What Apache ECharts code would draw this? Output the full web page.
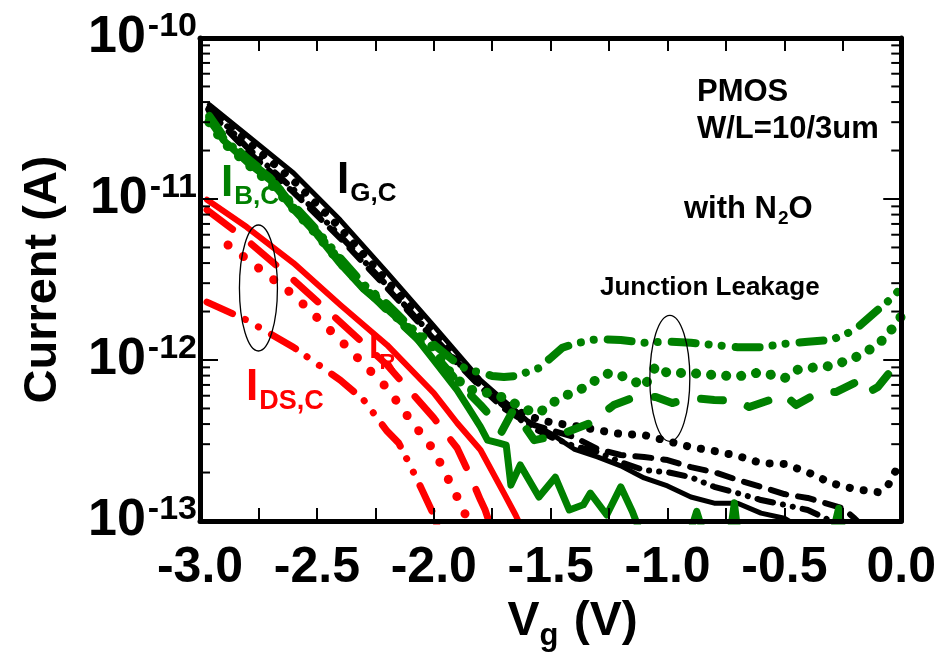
<!DOCTYPE html>
<html>
<head>
<meta charset="utf-8">
<script src="https://cdn.jsdelivr.net/npm/echarts@6/dist/echarts.min.js"></script>
<style>
  html, body { margin: 0; padding: 0; background: #fff; }
  #chart { width: 939px; height: 664px; }
</style>
</head>
<body>
<div id="chart"></div>
<script>
// Gate-voltage sweep, PMOS W/L = 10/3 um with N2O: currents in A versus Vg in V.
const xTicks = [-3.0, -2.5, -2.0, -1.5, -1.0, -0.5, 0.0];
const yDecades = [1e-13, 1e-12, 1e-11, 1e-10];

// Gate current I_G,C (black)
const igSolid = [[-2.96, 3.85e-11], [-2.8, 2.5e-11], [-2.6, 1.45e-11], [-2.4, 7.4e-12], [-2.2, 3.5e-12],
  [-2.0, 1.63e-12], [-1.8, 7.5e-13], [-1.7, 5.6e-13], [-1.6, 4.2e-13], [-1.5, 3.5e-13], [-1.4, 2.8e-13],
  [-1.3, 2.5e-13], [-1.2, 2.2e-13], [-1.1, 1.85e-13], [-1.0, 1.65e-13], [-0.9, 1.41e-13], [-0.8, 1.29e-13],
  [-0.7, 1.29e-13], [-0.6, 1.12e-13], [-0.5, 1.04e-13], [-0.4, 8.5e-14]];
const igDashed = [[-2.96, 3.5e-11], [-2.8, 2.0e-11], [-2.6, 1.1e-11], [-2.4, 5.7e-12], [-2.2, 2.8e-12],
  [-2.0, 1.35e-12], [-1.8, 6.8e-13], [-1.7, 5.0e-13], [-1.6, 4.06e-13], [-1.5, 3.67e-13], [-1.4, 3.33e-13],
  [-1.3, 2.8e-13], [-1.2, 2.57e-13], [-1.1, 2.5e-13], [-1.0, 2.39e-13], [-0.9, 2.16e-13], [-0.8, 2.01e-13],
  [-0.7, 1.8e-13], [-0.6, 1.63e-13], [-0.5, 1.47e-13], [-0.4, 1.39e-13], [-0.3, 1.26e-13], [-0.25, 1.2e-13],
  [-0.2, 1.04e-13], [-0.15, 8.8e-14]];
const igDotted = [[-2.96, 3.6e-11], [-2.8, 2.3e-11], [-2.6, 1.3e-11], [-2.4, 6.6e-12], [-2.2, 3.1e-12],
  [-2.0, 1.5e-12], [-1.8, 7.2e-13], [-1.7, 5.4e-13], [-1.6, 4.5e-13], [-1.5, 4.1e-13], [-1.4, 3.9e-13],
  [-1.3, 3.67e-13], [-1.2, 3.47e-13], [-1.1, 3.42e-13], [-1.0, 3.14e-13], [-0.9, 2.88e-13], [-0.8, 2.72e-13],
  [-0.7, 2.54e-13], [-0.6, 2.29e-13], [-0.5, 2.26e-13], [-0.4, 2.01e-13], [-0.3, 1.72e-13], [-0.2, 1.58e-13],
  [-0.1, 1.51e-13], [-0.06, 1.63e-13], [-0.02, 2.1e-13]];
const igDashDot = [[-2.96, 3.7e-11], [-2.8, 2.1e-11], [-2.6, 1.15e-11], [-2.4, 5.9e-12], [-2.2, 2.9e-12],
  [-2.0, 1.38e-12], [-1.8, 6.9e-13], [-1.7, 5.18e-13], [-1.6, 3.94e-13], [-1.5, 3.33e-13], [-1.4, 2.92e-13],
  [-1.3, 2.69e-13], [-1.2, 2.32e-13], [-1.1, 2.07e-13], [-1.0, 2.01e-13], [-0.9, 1.87e-13], [-0.8, 1.63e-13],
  [-0.7, 1.49e-13], [-0.6, 1.35e-13], [-0.5, 1.26e-13], [-0.4, 1.17e-13], [-0.3, 1.0e-13], [-0.25, 8.8e-14]];

// Bulk current I_B,C (green)
const ibSolid = [[-2.96, 3.1e-11], [-2.9, 2.32e-11], [-2.8, 1.7e-11], [-2.7, 1.31e-11], [-2.6, 8.6e-12],
  [-2.5, 6.0e-12], [-2.4, 3.95e-12], [-2.3, 2.75e-12], [-2.2, 2.07e-12], [-2.1, 1.53e-12], [-2.0, 1.0e-12],
  [-1.9, 6.5e-13], [-1.85, 5.0e-13], [-1.8, 3.84e-13], [-1.77, 3.18e-13], [-1.72, 3.05e-13], [-1.69, 2.96e-13],
  [-1.67, 1.67e-13], [-1.63, 2.23e-13], [-1.55, 1.41e-13], [-1.48, 1.87e-13], [-1.42, 1.17e-13], [-1.36, 1.26e-13],
  [-1.33, 1.49e-13], [-1.26, 1.09e-13], [-1.2, 1.63e-13], [-1.15, 1.14e-13], [-1.12, 8.8e-14], [-0.9, 8.8e-14],
  [-0.875, 1.15e-13], [-0.85, 8.8e-14], [-0.73, 8.8e-14], [-0.714, 1.3e-13], [-0.7, 8.8e-14], [-0.29, 8.8e-14],
  [-0.268, 1.2e-13], [-0.25, 8.8e-14]];
const ibDashed = [[-2.96, 3.28e-11], [-2.9, 2.46e-11], [-2.8, 1.8e-11], [-2.7, 1.37e-11], [-2.6, 8.9e-12],
  [-2.5, 6.2e-12], [-2.4, 4.15e-12], [-2.3, 2.85e-12], [-2.2, 2.04e-12], [-2.1, 1.49e-12], [-2.0, 1.09e-12],
  [-1.9, 7.4e-13], [-1.8, 5.25e-13], [-1.75, 4.37e-13], [-1.71, 3.57e-13], [-1.66, 4.89e-13], [-1.57, 3.18e-13],
  [-1.5, 3.33e-13], [-1.43, 3.57e-13], [-1.33, 4.06e-13], [-1.23, 5.25e-13], [-1.15, 5.81e-13], [-1.05, 5.89e-13],
  [-0.98, 5.4e-13], [-0.9, 5.81e-13], [-0.8, 5.65e-13], [-0.7, 5.56e-13], [-0.65, 5.1e-13], [-0.6, 5.4e-13],
  [-0.5, 6.07e-13], [-0.45, 5.25e-13], [-0.35, 6.32e-13], [-0.28, 6.32e-13], [-0.2, 7.2e-13], [-0.16, 6.07e-13],
  [-0.1, 6.79e-13], [0.0, 1.03e-12]];
const ibDotted = [[-2.96, 3.0e-11], [-2.9, 2.26e-11], [-2.8, 1.67e-11], [-2.7, 1.26e-11], [-2.6, 8.7e-12],
  [-2.5, 6.05e-12], [-2.4, 4.05e-12], [-2.3, 2.85e-12], [-2.2, 2.13e-12], [-2.1, 1.53e-12], [-2.0, 1.2e-12],
  [-1.95, 9.0e-13], [-1.9, 7.6e-13], [-1.85, 6.6e-13], [-1.8, 6.32e-13], [-1.75, 6.2e-13], [-1.7, 5.81e-13],
  [-1.65, 5.33e-13], [-1.6, 4.89e-13], [-1.55, 4.69e-13], [-1.5, 5.33e-13], [-1.45, 5.89e-13], [-1.4, 6.32e-13],
  [-1.35, 6.79e-13], [-1.3, 7.62e-13], [-1.25, 8.3e-13], [-1.2, 8.0e-13], [-1.15, 7.5e-13], [-1.1, 6.8e-13],
  [-1.05, 9.18e-13], [-1.0, 8.3e-13], [-0.9, 8.3e-13], [-0.8, 8.07e-13], [-0.7, 7.9e-13], [-0.6, 8.41e-13],
  [-0.5, 7.7e-13], [-0.45, 8.67e-13], [-0.4, 8.91e-13], [-0.3, 9.18e-13], [-0.2, 1.03e-12], [-0.1, 1.24e-12],
  [-0.05, 1.49e-12], [0.0, 1.87e-12]];
const ibDashDot = [[-2.96, 3.18e-11], [-2.9, 2.39e-11], [-2.8, 1.75e-11], [-2.7, 1.35e-11], [-2.6, 9.2e-12],
  [-2.5, 6.4e-12], [-2.4, 4.3e-12], [-2.3, 2.95e-12], [-2.2, 2.23e-12], [-2.1, 1.6e-12], [-2.0, 1.25e-12],
  [-1.9, 9.5e-13], [-1.85, 8.6e-13], [-1.8, 8.41e-13], [-1.75, 7.96e-13], [-1.7, 7.83e-13], [-1.65, 7.96e-13],
  [-1.6, 8.41e-13], [-1.55, 8.91e-13], [-1.5, 1.03e-12], [-1.45, 1.19e-12], [-1.4, 1.26e-12], [-1.3, 1.35e-12],
  [-1.2, 1.33e-12], [-1.1, 1.28e-12], [-1.0, 1.3e-12], [-0.9, 1.28e-12], [-0.8, 1.24e-12], [-0.7, 1.2e-12],
  [-0.6, 1.2e-12], [-0.5, 1.26e-12], [-0.4, 1.3e-12], [-0.3, 1.33e-12], [-0.2, 1.53e-12], [-0.1, 2.05e-12],
  [-0.05, 2.36e-12], [0.0, 2.8e-12]];

// Drain-source current I_DS,C (red)
const idsSolid = [[-2.97, 9.9e-12], [-2.8, 6.7e-12], [-2.6, 4.0e-12], [-2.4, 2.2e-12], [-2.2, 1.24e-12],
  [-2.0, 6.24e-13], [-1.9, 4.06e-13], [-1.8, 2.76e-13], [-1.7, 1.49e-13], [-1.65, 1.09e-13], [-1.62, 8.8e-14]];
const idsDashed = [[-2.97, 8.55e-12], [-2.8, 5.56e-12], [-2.6, 3.14e-12], [-2.4, 1.72e-12], [-2.2, 9.31e-13],
  [-2.0, 4.37e-13], [-1.9, 2.84e-13], [-1.85, 1.99e-13], [-1.8, 1.35e-13], [-1.78, 1.17e-13], [-1.75, 8.7e-14]];
const idsDotted = [[-2.88, 5.18e-12], [-2.8, 4.24e-12], [-2.6, 2.54e-12], [-2.4, 1.33e-12], [-2.2, 6.7e-13],
  [-2.1, 4.24e-13], [-2.0, 2.76e-13], [-1.9, 1.41e-13], [-1.86, 1.06e-13], [-1.84, 8.8e-14]];
const idsDashDot = [[-2.97, 2.29e-12], [-2.8, 1.77e-12], [-2.6, 1.2e-12], [-2.4, 7.5e-13], [-2.3, 5.65e-13],
  [-2.2, 3.62e-13], [-2.15, 3.05e-13], [-2.1, 2.2e-13], [-2.05, 1.56e-13], [-2.0, 1.09e-13], [-1.98, 8.8e-14]];

const BLACK = '#000000', GREEN = '#008000', RED = '#ff0000';
const FONT = 'Liberation Sans, Arial, sans-serif';

// line styles: solid, long dash, round dots, dash-dot-dot
const curves = [
  { data: igSolid,   color: BLACK, width: 5, type: 'solid' },
  { data: igDashed,  color: BLACK, width: 6, type: [16, 12] },
  { data: igDashDot, color: BLACK, width: 6, type: [16, 10, 0.1, 10, 0.1, 10] },
  { data: igDotted,  color: BLACK, width: 8, type: [0.1, 14] },
  { data: ibSolid,   color: GREEN, width: 7, type: 'solid' },
  { data: ibDashed,  color: GREEN, width: 8, type: [22, 26] },
  { data: ibDotted,  color: GREEN, width: 10, type: [0.1, 15] },
  { data: ibDashDot, color: GREEN, width: 8, type: [24, 13, 0.1, 13, 0.1, 14] },
  { data: idsSolid,  color: RED, width: 6, type: 'solid' },
  { data: idsDashed, color: RED, width: 7, type: [32, 24] },
  { data: idsDotted, color: RED, width: 9, type: [0.1, 19] },
  { data: idsDashDot,color: RED, width: 7, type: [28, 14, 0.1, 15, 0.1, 15] }
];

// log-axis minor ticks (2..9 within each decade)
const minorTickValues = [];
for (let d = 0; d < yDecades.length - 1; d++) {
  for (let m = 2; m <= 9; m++) minorTickValues.push(m * yDecades[d]);
}

const chart = echarts.init(document.getElementById('chart'), null, { renderer: 'canvas' });

const frameLine = { show: true, onZero: false, lineStyle: { color: BLACK, width: 5 } };
const xCommon = {
  type: 'value', min: xTicks[0], max: xTicks[xTicks.length - 1], interval: 0.5,
  axisLine: frameLine,
  axisTick: { show: true, inside: true, length: 13, lineStyle: { color: BLACK, width: 2 } },
  minorTick: { show: true, splitNumber: 2, length: 13, lineStyle: { color: BLACK, width: 2 } },
  splitLine: { show: false }, z: 5
};
const yCommon = {
  type: 'log', logBase: 10, min: yDecades[0], max: yDecades[yDecades.length - 1],
  axisLine: frameLine,
  axisTick: { show: true, inside: true, length: 18, lineStyle: { color: BLACK, width: 2 } },
  splitLine: { show: false }, z: 5
};

const series = curves.map((c, i) => ({
  type: 'line', name: 'c' + i, data: c.data, showSymbol: false, symbol: 'none',
  clip: true, z: 2 + (i >= 8 ? 1 : 0),
  lineStyle: { color: c.color, width: c.width, type: c.type, cap: 'round', join: 'round' }
}));

series.push({
  type: 'custom', name: 'minorTicks', silent: true, clip: false, z: 6,
  data: minorTickValues.map(v => [xTicks[0], v]),
  renderItem: (params, api) => {
    const v = api.value(1);
    const l = api.coord([xTicks[0], v]);
    const r = api.coord([xTicks[xTicks.length - 1], v]);
    return {
      type: 'group', children: [
        { type: 'line', shape: { x1: l[0], y1: l[1], x2: l[0] + 10, y2: l[1] }, style: { stroke: BLACK, lineWidth: 2 } },
        { type: 'line', shape: { x1: r[0], y1: r[1], x2: r[0] - 10, y2: r[1] }, style: { stroke: BLACK, lineWidth: 2 } }
      ]
    };
  }
});

chart.setOption({
  animation: false,
  backgroundColor: '#ffffff',
  grid: { left: 200, right: 33, top: 38, bottom: 143, containLabel: false },
  xAxis: [
    Object.assign({}, xCommon, {
      position: 'bottom',
      axisLabel: {
        show: true, margin: 22, color: BLACK, fontFamily: FONT, fontWeight: 'bold', fontSize: 50,
        formatter: v => v.toFixed(1)
      },
      name: '{a|V}{s|g}{a| (V)}', nameLocation: 'middle', nameGap: 76,
      nameTextStyle: {
        padding: [0, 0, 0, 44],
        rich: {
          a: { fontFamily: FONT, fontWeight: 'bold', fontSize: 48, color: BLACK, lineHeight: 48, verticalAlign: 'top' },
          s: { fontFamily: FONT, fontWeight: 'bold', fontSize: 31, color: BLACK, lineHeight: 31, verticalAlign: 'top', padding: [23, 2, 0, 0] }
        }
      }
    }),
    Object.assign({}, xCommon, { position: 'top', axisLabel: { show: false } })
  ],
  yAxis: [
    Object.assign({}, yCommon, {
      position: 'left',
      axisLabel: {
        show: true, margin: 3, color: BLACK,
        formatter: v => '{b|10}{s|' + Math.round(Math.log10(v)) + '}',
        rich: {
          b: { fontFamily: FONT, fontWeight: 'bold', fontSize: 52, color: BLACK, lineHeight: 52, verticalAlign: 'top' },
          s: { fontFamily: FONT, fontWeight: 'bold', fontSize: 34, color: BLACK, lineHeight: 34, verticalAlign: 'top', padding: [-2, 0, 0, 2] }
        }
      },
      name: 'Current (A)', nameLocation: 'middle', nameGap: 133, nameRotate: 90,
      nameTextStyle: { fontFamily: FONT, fontWeight: 'bold', fontSize: 47, color: BLACK }
    }),
    Object.assign({}, yCommon, { position: 'right', axisLabel: { show: false } })
  ],
  series: series
});

// annotation texts and ellipses
const labelRich = (color, big, small, pad) => ({
  a: { fontFamily: FONT, fontWeight: 'bold', fontSize: big, lineHeight: big, fill: color, verticalAlign: 'top' },
  s: { fontFamily: FONT, fontWeight: 'bold', fontSize: small, lineHeight: small, fill: color, verticalAlign: 'top', padding: [pad, 0, 0, 1] }
});
const plainText = (x, y, text, size) => ({
  type: 'text', x: x, y: y, z: 100,
  style: { text: text, fill: BLACK, fontFamily: FONT, fontWeight: 'bold', fontSize: size, verticalAlign: 'top' }
});
const richText = (x, y, text, rich, z) => ({
  type: 'text', x: x, y: y, z: z,
  style: { text: text, verticalAlign: 'top', rich: rich }
});

const leftEllipse = chart.convertToPixel({ xAxisIndex: 0, yAxisIndex: 0 }, [-2.75, 2.8e-12]);
const rightEllipse = chart.convertToPixel({ xAxisIndex: 0, yAxisIndex: 0 }, [-0.99, 7.7e-13]);

chart.setOption({
  graphic: [
    plainText(697, 77, 'PMOS', 31),
    plainText(697, 114, 'W/L=10/3um', 31),
    richText(684, 194, '{a|with N}{s|2}{a|O}', labelRich(BLACK, 31, 19, 15), 100),
    plainText(600, 275, 'Junction Leakage', 26),
    richText(337, 159, '{a|I}{s|G,C}', labelRich(BLACK, 44, 26, 22), 100),
    richText(221, 162, '{a|I}{s|B,C}', labelRich(GREEN, 44, 26, 22), 100),
    richText(246, 366, '{a|I}{s|DS,C}', labelRich(RED, 44, 27, 22), 100),
    richText(369, 332, '{a|I}{s|R}', labelRich(RED, 34, 22, 20), 1),
    { type: 'ellipse', z: 100, shape: { cx: leftEllipse[0], cy: leftEllipse[1], rx: 19, ry: 63 },
      style: { fill: 'none', stroke: BLACK, lineWidth: 1.3 } },
    { type: 'ellipse', z: 100, shape: { cx: rightEllipse[0], cy: rightEllipse[1], rx: 20, ry: 63 },
      style: { fill: 'none', stroke: BLACK, lineWidth: 1.3 } }
  ]
});
</script>
</body>
</html>
